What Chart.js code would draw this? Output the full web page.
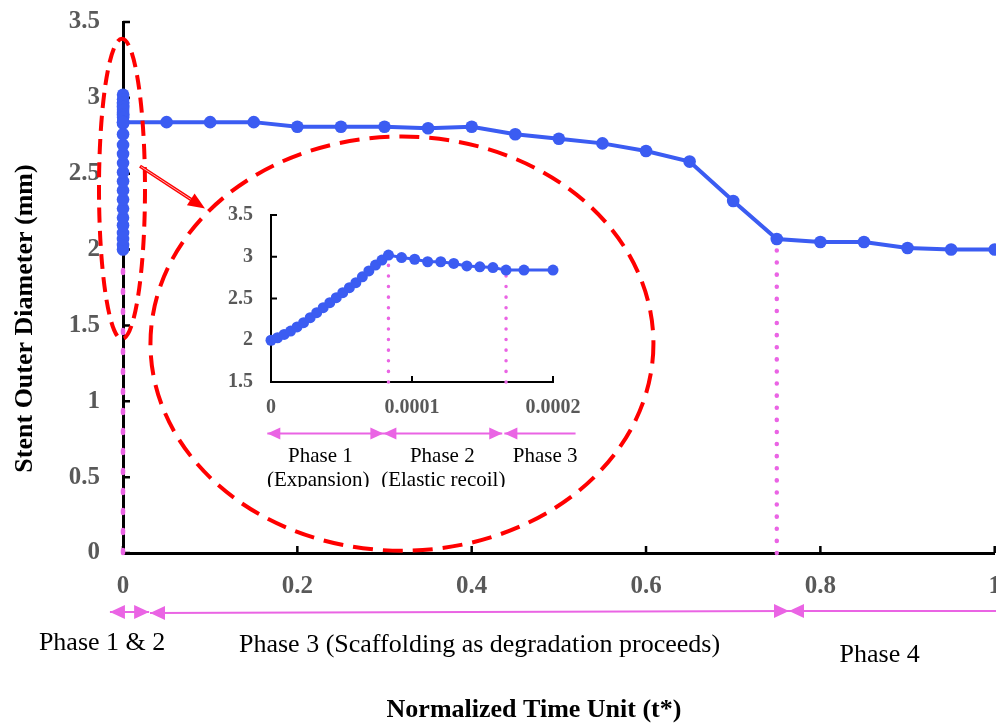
<!DOCTYPE html>
<html lang="en">
<head>
<meta charset="UTF-8">
<title>Stent Outer Diameter vs Normalized Time</title>
<style>
    html, body { margin: 0; padding: 0; background: #fff; overflow: hidden; }
    #wrap { position: relative; width: 996px; height: 726px; overflow: hidden; }
    #main-chart { position: absolute; left: 0; top: 0; }
    #inset-chart { position: absolute; left: 200px; top: 200px; }
</style>
<script src="https://cdn.jsdelivr.net/npm/chart.js"></script>
</head>
<body>
<div id="wrap">
    <canvas id="main-chart" width="1001" height="726"></canvas>
    <canvas id="inset-chart" width="400" height="287"></canvas>
</div>
<script>
// zoomed part: expansion, elastic recoil and start of scaffolding (t* 0 .. 0.0002)
const insetTimes = [
    0, 0.0000046, 0.0000093, 0.0000139, 0.0000185, 0.0000231, 0.0000278, 0.0000324, 0.000037, 0.0000417,
    0.0000463, 0.0000509, 0.0000556, 0.0000602, 0.0000648, 0.0000694, 0.0000741, 0.0000787, 0.0000833,
    0.0000926, 0.0001019, 0.0001111, 0.0001204, 0.0001296, 0.0001389, 0.0001481, 0.0001574, 0.0001667,
    0.0001794, 0.0002
];
const insetDiameters = [
    2.00, 2.03, 2.07, 2.11, 2.16, 2.21, 2.27, 2.33, 2.39, 2.45,
    2.51, 2.57, 2.63, 2.69, 2.76, 2.83, 2.90, 2.96, 3.02,
    2.99, 2.97, 2.94, 2.94, 2.92, 2.89, 2.88, 2.87, 2.84,
    2.84, 2.84
];
// degradation part
const mainTimes = [0.05, 0.1, 0.15, 0.2, 0.25, 0.3, 0.35, 0.4, 0.45, 0.5,
                   0.55, 0.6, 0.65, 0.7, 0.75, 0.8, 0.85, 0.9, 0.95, 1.0];
const mainDiameters = [2.84, 2.84, 2.84, 2.81, 2.81, 2.81, 2.80, 2.81, 2.76, 2.73,
                       2.70, 2.65, 2.58, 2.32, 2.07, 2.05, 2.05, 2.01, 2.00, 2.00];

// phase boundaries marked by the dotted lines
const mainGuideTimes = [0, 0.75];
const insetGuideTimes = [0.0000833, 0.0001667];

const mainXTicks = [0, 0.2, 0.4, 0.6, 0.8, 1];
const mainXLabels = ['0', '0.2', '0.4', '0.6', '0.8', '1'];
const mainYTicks = [0, 0.5, 1, 1.5, 2, 2.5, 3, 3.5];
const mainYLabels = ['0', '0.5', '1', '1.5', '2', '2.5', '3', '3.5'];
const insetXTicks = [0, 0.0001, 0.0002];
const insetXLabels = ['0', '0.0001', '0.0002'];
const insetYTicks = [1.5, 2, 2.5, 3, 3.5];
const insetYLabels = ['1.5', '2', '2.5', '3', '3.5'];

const mainPhaseLabels = ['Phase 1 & 2', 'Phase 3 (Scaffolding as degradation proceeds)', 'Phase 4'];
const insetPhaseLabels = ['Phase 1', 'Phase 2', 'Phase 3'];
const insetPhaseNotes = ['(Expansion)', '(Elastic recoil)'];

const blue = '#3B5CF2';
const pink = '#EA64E4';
const red = '#FF0000';
const grey = '#595959';
const serif = "'Liberation Serif', 'Times New Roman', serif";

const allTimes = insetTimes.concat(mainTimes);
const allDiameters = insetDiameters.concat(mainDiameters);

function toPoints(xs, ys) { return xs.map((x, i) => ({x: x, y: ys[i]})); }
function diameterAt(t) { return allDiameters[allTimes.indexOf(t)]; }

function guideDataset(t, yFrom, width, dash) {
    return {
        data: [{x: t, y: yFrom}, {x: t, y: diameterAt(t)}],
        borderColor: pink, borderWidth: width, borderDash: dash, borderCapStyle: 'round',
        pointRadius: 0, clip: false, order: 2
    };
}

function fixedTicks(values, labels) {
    return {
        afterBuildTicks: s => { s.ticks = values.map(v => ({value: v})); },
        callback: (v, i) => labels[i]
    };
}

function arrowHead(ctx, tipX, y, dir, len, half) {
    ctx.beginPath();
    ctx.moveTo(tipX, y);
    ctx.lineTo(tipX - dir * len, y - half);
    ctx.lineTo(tipX - dir * len, y + half);
    ctx.closePath();
    ctx.fill();
}

function text(ctx, s, x, y, font, color) {
    ctx.font = font;
    ctx.fillStyle = color;
    ctx.textAlign = 'center';
    ctx.textBaseline = 'alphabetic';
    ctx.fillText(s, x, y);
}

// ticks point into the plot area
const inwardTicks = {
    id: 'inwardTicks',
    beforeDatasetsDraw(chart, args, opts) {
        const {ctx, chartArea: a, scales: {x, y}} = chart;
        ctx.save();
        ctx.strokeStyle = '#000';
        ctx.lineWidth = opts.width;
        ctx.beginPath();
        y.ticks.forEach(t => {
            const py = y.getPixelForValue(t.value);
            ctx.moveTo(a.left, py); ctx.lineTo(a.left + opts.length, py);
        });
        x.ticks.forEach(t => {
            const px = x.getPixelForValue(t.value);
            ctx.moveTo(px, a.bottom); ctx.lineTo(px, a.bottom - opts.length);
        });
        ctx.stroke();
        ctx.restore();
    }
};

const mainNotes = {
    id: 'mainNotes',
    afterDatasetsDraw(chart) {
        const {ctx, scales: {x, y}} = chart;
        ctx.save();
        ctx.strokeStyle = red;
        ctx.lineWidth = 4;
        // ring around the crowded points at t* = 0
        ctx.setLineDash([15, 8]);
        const cy = y.getPixelForValue(2.4);
        ctx.beginPath();
        ctx.ellipse(x.getPixelForValue(0) - 1, cy, 23, cy - y.getPixelForValue(3.39), 0, 0, Math.PI * 2);
        ctx.stroke();
        // big ring that holds the zoomed view
        ctx.setLineDash([20, 10]);
        const bx = x.getPixelForValue(0.32), by = y.getPixelForValue(1.38);
        ctx.beginPath();
        ctx.ellipse(bx, by, x.getPixelForValue(0.32 + 0.2885) - bx, by - y.getPixelForValue(1.38 + 1.365), 0, 0, Math.PI * 2);
        ctx.stroke();
        ctx.setLineDash([]);
        // arrow from small ring to big ring
        const x0 = x.getPixelForValue(0) + 17, y0 = y.getPixelForValue(2.55);
        const x1 = x.getPixelForValue(0) + 82, y1 = y.getPixelForValue(2.27);
        const ang = Math.atan2(y1 - y0, x1 - x0);
        ctx.lineWidth = 3.5;
        ctx.beginPath(); ctx.moveTo(x0, y0); ctx.lineTo(x1 - 12 * Math.cos(ang), y1 - 12 * Math.sin(ang)); ctx.stroke();
        ctx.strokeStyle = '#F7B0B0';
        ctx.lineWidth = 1;
        ctx.beginPath(); ctx.moveTo(x0 + 1, y0 + 0.6); ctx.lineTo(x1 - 14 * Math.cos(ang), y1 - 14 * Math.sin(ang)); ctx.stroke();
        ctx.fillStyle = red;
        ctx.translate(x1, y1); ctx.rotate(ang);
        arrowHead(ctx, 0, 0, 1, 17, 7);
        ctx.restore();
    },
    afterDraw(chart) {
        const {ctx, chartArea: a, scales: {x}} = chart;
        ctx.save();
        // phase arrows under the axis
        const ay = a.bottom + 59;
        ctx.strokeStyle = pink; ctx.fillStyle = pink; ctx.lineWidth = 2;
        const p = v => x.getPixelForValue(v);
        ctx.beginPath();
        ctx.moveTo(p(-0.015), ay); ctx.lineTo(p(0.03), ay);
        ctx.moveTo(p(0.031), ay + 1); ctx.lineTo(p(0.764), ay - 1);
        ctx.moveTo(p(0.764), ay - 1); ctx.lineTo(a.right + 10, ay - 1);
        ctx.stroke();
        arrowHead(ctx, p(-0.015), ay, -1, 15, 7);
        arrowHead(ctx, p(0.03), ay, 1, 15, 7);
        arrowHead(ctx, p(0.031), ay + 1, -1, 15, 7);
        arrowHead(ctx, p(0.764), ay - 1, 1, 15, 7);
        arrowHead(ctx, p(0.764), ay - 1, -1, 15, 7);

        const f = '26px ' + serif;
        text(ctx, mainPhaseLabels[0], p(-0.024), a.bottom + 97, f, '#000');
        text(ctx, mainPhaseLabels[1], p(0.409), a.bottom + 99, f, '#000');
        text(ctx, mainPhaseLabels[2], p(0.868), a.bottom + 109, f, '#000');

        // axis titles
        text(ctx, 'Normalized Time Unit (t*)', a.left + 411, a.bottom + 164, 'bold 26px ' + serif, '#000');
        ctx.translate(32, (a.top + a.bottom) / 2 + 31);
        ctx.rotate(-Math.PI / 2);
        text(ctx, 'Stent Outer Diameter (mm)', 0, 0, 'bold 26px ' + serif, '#000');
        ctx.restore();
    }
};

const insetNotes = {
    id: 'insetNotes',
    afterDraw(chart) {
        const {ctx, chartArea: a, scales: {x}} = chart;
        const p = v => x.getPixelForValue(v);
        ctx.save();
        const ay = a.bottom + 51.5;
        ctx.strokeStyle = pink; ctx.fillStyle = pink; ctx.lineWidth = 2;
        ctx.beginPath();
        ctx.moveTo(p(-0.0000026), ay); ctx.lineTo(p(0.0000797), ay);
        ctx.moveTo(p(0.0000797), ay); ctx.lineTo(p(0.000164), ay);
        ctx.moveTo(p(0.0001655), ay); ctx.lineTo(p(0.000216), ay);
        ctx.stroke();
        arrowHead(ctx, p(-0.0000026), ay, -1, 13, 6);
        arrowHead(ctx, p(0.0000797), ay, 1, 13, 6);
        arrowHead(ctx, p(0.0000797), ay, -1, 13, 6);
        arrowHead(ctx, p(0.000164), ay, 1, 13, 6);
        arrowHead(ctx, p(0.0001655), ay, -1, 13, 6);

        const f = '21px ' + serif;
        text(ctx, insetPhaseLabels[0], p(0.000035), a.bottom + 80, f, '#000');
        text(ctx, insetPhaseLabels[1], p(0.0001215), a.bottom + 80, f, '#000');
        text(ctx, insetPhaseLabels[2], p(0.0001945), a.bottom + 80, f, '#000');
        text(ctx, insetPhaseNotes[0], p(0.0000335), a.bottom + 103.5, f, '#000');
        text(ctx, insetPhaseNotes[1], p(0.0001222), a.bottom + 103.5, f, '#000');
        ctx.restore();
    }
};

new Chart(document.getElementById('main-chart'), {
    type: 'line',
    data: {
        datasets: [
            {
                label: 'Stent outer diameter',
                data: toPoints(allTimes, allDiameters),
                borderColor: blue, backgroundColor: blue, borderWidth: 4,
                pointRadius: 6.3, pointBorderWidth: 0, pointHoverRadius: 6.3,
                clip: false, order: 1
            },
            guideDataset(mainGuideTimes[0], 0, 4.5, [3, 17]),
            guideDataset(mainGuideTimes[1], 0, 4.5, [0.1, 12])
        ]
    },
    options: {
        responsive: false,
        animation: false,
        events: [],
        layout: { padding: { top: 22, right: 1, left: 0, bottom: 0 } },
        plugins: { legend: { display: false }, tooltip: { enabled: false }, inwardTicks: { length: 7, width: 2.5 } },
        scales: {
            x: {
                type: 'linear', min: 0, max: 1,
                afterBuildTicks: fixedTicks(mainXTicks, mainXLabels).afterBuildTicks,
                afterFit: s => { s.height = 173; s.paddingLeft = 0; s.paddingRight = 0; },
                grid: { display: false, drawTicks: false },
                border: { color: '#000', width: 3 },
                ticks: {
                    callback: fixedTicks(mainXTicks, mainXLabels).callback,
                    font: { family: serif, size: 25, weight: 'bold' }, color: grey, padding: 19,
                    maxRotation: 0, autoSkip: false
                }
            },
            y: {
                min: 0, max: 3.5,
                afterBuildTicks: fixedTicks(mainYTicks, mainYLabels).afterBuildTicks,
                afterFit: s => { s.width = 123; s.paddingTop = 0; s.paddingBottom = 0; },
                grid: { display: false, drawTicks: false },
                border: { color: '#000', width: 3 },
                ticks: {
                    callback: fixedTicks(mainYTicks, mainYLabels).callback,
                    font: { family: serif, size: 25, weight: 'bold' }, color: grey, padding: 23
                }
            }
        }
    },
    plugins: [inwardTicks, mainNotes]
});

new Chart(document.getElementById('inset-chart'), {
    type: 'line',
    data: {
        datasets: [
            {
                label: 'Stent outer diameter (zoom)',
                data: toPoints(insetTimes, insetDiameters),
                borderColor: blue, backgroundColor: blue, borderWidth: 3,
                pointRadius: 5.5, pointBorderWidth: 0, pointHoverRadius: 5.5,
                clip: false, order: 1
            },
            guideDataset(insetGuideTimes[0], 1.5, 3.5, [0.1, 10.5]),
            guideDataset(insetGuideTimes[1], 1.5, 3.5, [0.1, 10.5])
        ]
    },
    options: {
        responsive: false,
        animation: false,
        events: [],
        layout: { padding: { top: 15, right: 47, left: 0, bottom: 0 } },
        plugins: { legend: { display: false }, tooltip: { enabled: false }, inwardTicks: { length: 6, width: 2 } },
        scales: {
            x: {
                type: 'linear', min: 0, max: 0.0002,
                afterBuildTicks: fixedTicks(insetXTicks, insetXLabels).afterBuildTicks,
                afterFit: s => { s.height = 105; s.paddingLeft = 0; s.paddingRight = 0; },
                grid: { display: false, drawTicks: false },
                border: { color: '#000', width: 2 },
                ticks: {
                    callback: fixedTicks(insetXTicks, insetXLabels).callback,
                    font: { family: serif, size: 20, weight: 'bold' }, color: grey, padding: 14,
                    maxRotation: 0, autoSkip: false
                }
            },
            y: {
                min: 1.5, max: 3.5,
                afterBuildTicks: fixedTicks(insetYTicks, insetYLabels).afterBuildTicks,
                afterFit: s => { s.width = 71; s.paddingTop = 0; s.paddingBottom = 0; },
                grid: { display: false, drawTicks: false },
                border: { color: '#000', width: 2 },
                ticks: {
                    callback: fixedTicks(insetYTicks, insetYLabels).callback,
                    font: { family: serif, size: 20, weight: 'bold' }, color: grey, padding: 18
                }
            }
        }
    },
    plugins: [inwardTicks, insetNotes]
});
</script>
</body>
</html>
